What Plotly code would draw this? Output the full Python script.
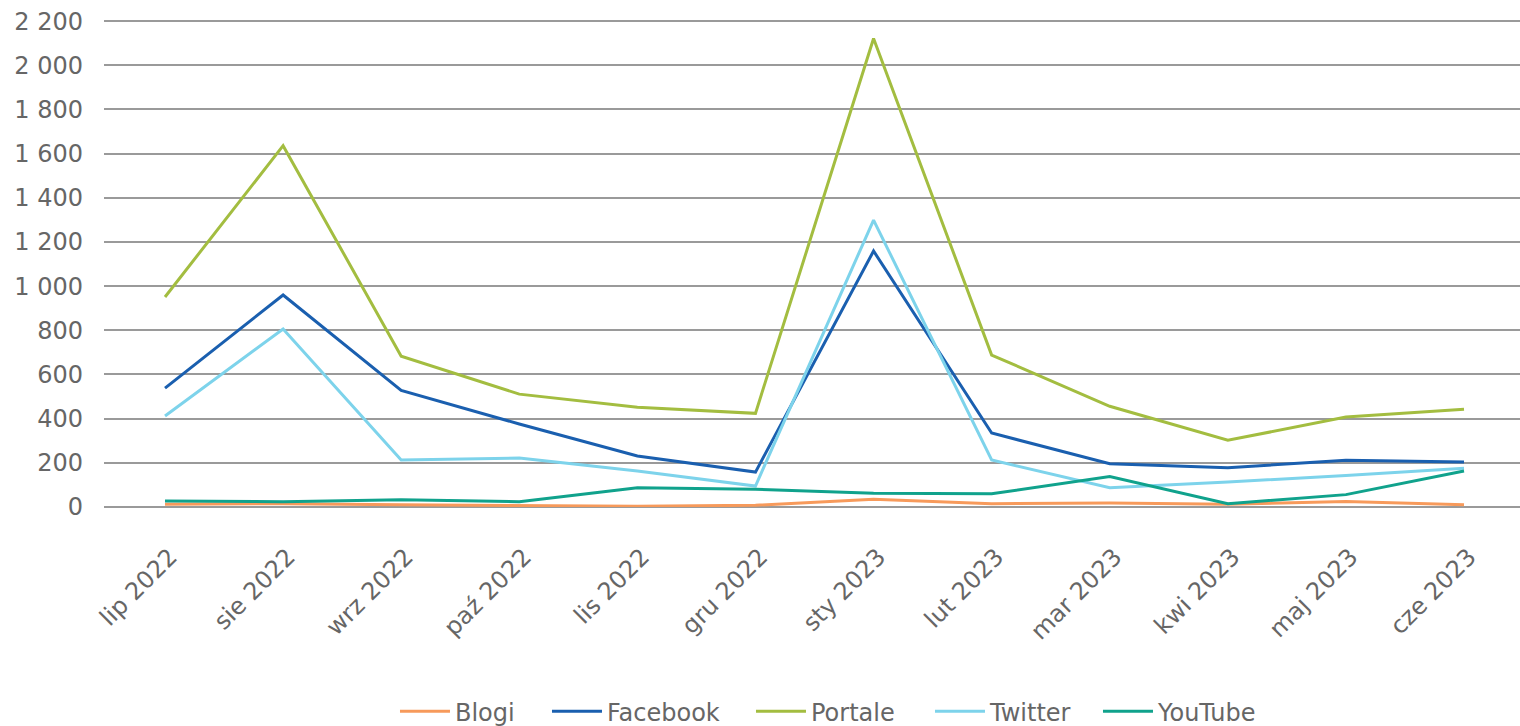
import plotly.graph_objects as go

months = ["lip 2022", "sie 2022", "wrz 2022", "paź 2022", "lis 2022", "gru 2022",
          "sty 2023", "lut 2023", "mar 2023", "kwi 2023", "maj 2023", "cze 2023"]

blogi = [12, 15, 10, 8, 3, 8, 35, 15, 18, 12, 25, 10]
facebook = [538, 960, 528, 376, 231, 158, 1159, 335, 196, 178, 212, 204]
portale = [951, 1636, 683, 511, 452, 424, 2121, 688, 456, 302, 407, 443]
twitter = [412, 806, 213, 222, 163, 95, 1299, 213, 87, 113, 143, 175]
youtube = [27, 24, 33, 24, 87, 80, 62, 60, 138, 15, 56, 163]

series = [
    ("Blogi", blogi, "#F79A5B", 87),
    ("Facebook", facebook, "#1A5FAF", 139),
    ("Portale", portale, "#A3BD40", 114),
    ("Twitter", twitter, "#7DD3EB", 103),
    ("YouTube", youtube, "#10A28C", 122),
]

fig = go.Figure()
for name, vals, color, lw in series:
    fig.add_trace(go.Scatter(x=months, y=vals, name=name, mode="lines",
                             legendwidth=lw,
                             line=dict(color=color, width=3)))

font_color = "#666666"
fig.update_layout(
    width=1520, height=726,
    paper_bgcolor="white", plot_bgcolor="white",
    margin=dict(l=104, r=0, t=20, b=219, autoexpand=False),
    font=dict(family="DejaVu Sans", size=24, color=font_color),
    separators=", ",
    showlegend=True,
    legend=dict(orientation="h", x=0.2055, xanchor="left", y=-0.374, yanchor="top",
                itemwidth=50, font=dict(size=24, color=font_color),
                traceorder="normal"),
    xaxis=dict(type="category", range=[-0.5166, 11.474], tickangle=-45, showgrid=False,
               showline=False, ticks="", ticklabelstandoff=30, ticklabelshift=5,
               automargin=False, tickfont=dict(size=24, color=font_color)),
    yaxis=dict(range=[0, 2205], dtick=200, tick0=0, showgrid=True,
               gridcolor="#9a9a9a", gridwidth=1.5, zeroline=True,
               zerolinecolor="#9a9a9a", zerolinewidth=2, automargin=False,
               separatethousands=True, tickformat=",d", ticks="",
               ticklabelstandoff=20, tickfont=dict(size=24, color=font_color)),
)

fig.write_html("out.html", config={"displayModeBar": False},
               post_script="document.body.style.margin='0';document.body.style.overflow='hidden';")
